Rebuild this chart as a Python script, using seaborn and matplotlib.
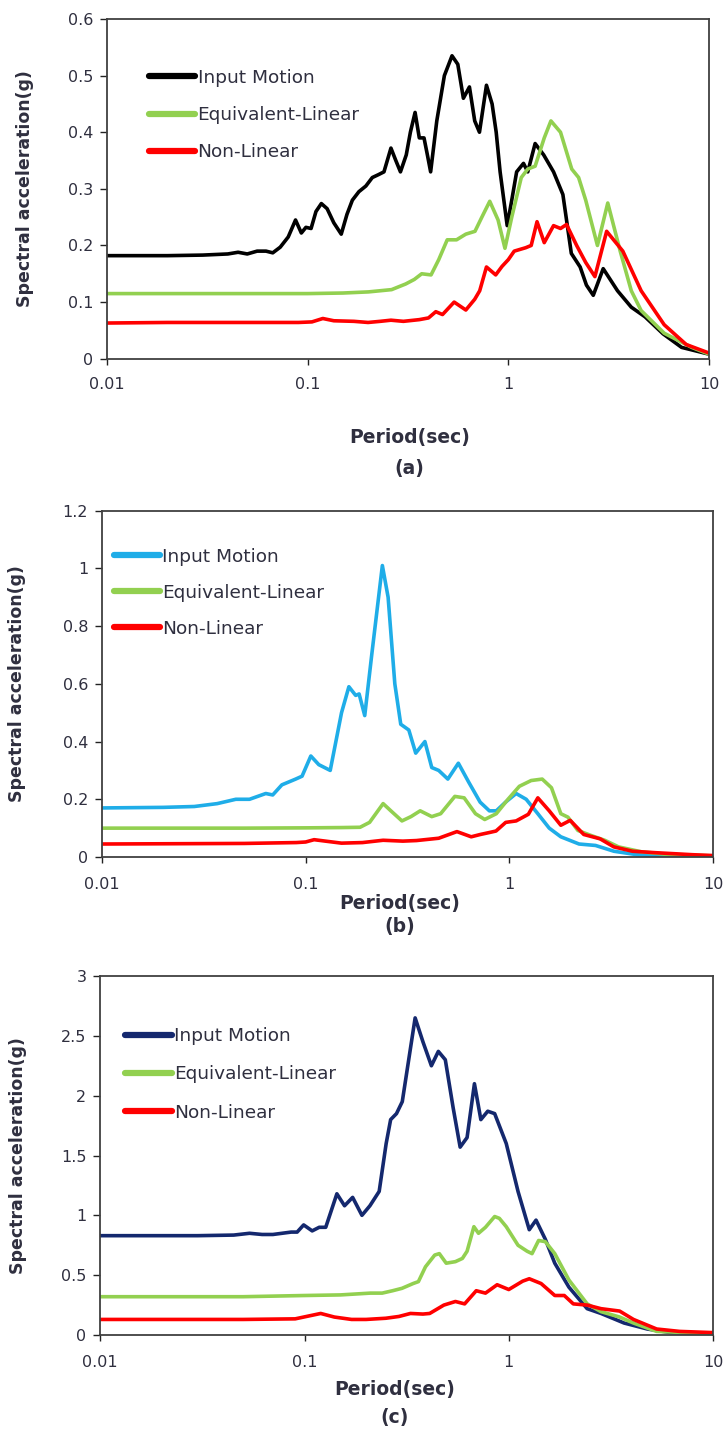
import numpy as np
import pandas as pd
import matplotlib
matplotlib.use("Agg")
import matplotlib.pyplot as plt
import seaborn as sns
from matplotlib.ticker import FixedLocator, FuncFormatter, NullLocator

sns.set_style("white")
plt.rcParams['font.family'] = ['DejaVu Sans']

series_names = ["Input Motion", "Equivalent-Linear", "Non-Linear"]
x_ticks = [0.01, 0.1, 1, 10]
x_tick_labels = ["0.01", "0.1", "1", "10"]
panel_tags = ["(a)", "(b)", "(c)"]
x_label = "Period(sec)"
y_label = "Spectral acceleration(g)"

# ---------------- Panel (a) ----------------
a_input_T = [0.01, 0.02, 0.03, 0.04, 0.045, 0.05, 0.056, 0.062, 0.067, 0.073, 0.08, 0.087, 0.093,
             0.098, 0.104, 0.11, 0.117, 0.125, 0.135, 0.147, 0.157, 0.167, 0.18, 0.195, 0.21, 0.225,
             0.24, 0.26, 0.275, 0.29, 0.31, 0.325, 0.343, 0.36, 0.38, 0.395, 0.41, 0.44, 0.48, 0.524,
             0.56, 0.597, 0.64, 0.68, 0.718, 0.778, 0.83, 0.87, 0.91, 0.987, 1.04, 1.1, 1.19, 1.25,
             1.36, 1.5, 1.68, 1.87, 2.06, 2.28, 2.45, 2.65, 2.97, 3.5, 4.1, 4.8, 5.9, 7.3, 10]
a_input_Sa = [0.182, 0.182, 0.183, 0.185, 0.188, 0.185, 0.19, 0.19, 0.187, 0.197, 0.215, 0.245, 0.222,
              0.232, 0.23, 0.26, 0.274, 0.265, 0.24, 0.22, 0.255, 0.28, 0.295, 0.305, 0.32, 0.325,
              0.33, 0.372, 0.35, 0.33, 0.36, 0.40, 0.435, 0.39, 0.39, 0.36, 0.33, 0.42, 0.5, 0.535,
              0.52, 0.46, 0.48, 0.42, 0.40, 0.483, 0.45, 0.40, 0.33, 0.235, 0.28, 0.33, 0.345, 0.33,
              0.38, 0.36, 0.33, 0.29, 0.186, 0.162, 0.13, 0.112, 0.159, 0.12, 0.091, 0.074, 0.044, 0.02, 0.008]
a_eql_T = [0.01, 0.05, 0.1, 0.15, 0.201, 0.262, 0.308, 0.34, 0.37, 0.412, 0.45, 0.496, 0.552, 0.614,
           0.682, 0.738, 0.808, 0.889, 0.962, 1.04, 1.16, 1.25, 1.36, 1.51, 1.63, 1.82, 2.07, 2.24,
           2.43, 2.78, 3.13, 3.61, 4.1, 4.59, 5.98, 8.2, 10]
a_eql_Sa = [0.115, 0.115, 0.115, 0.116, 0.118, 0.122, 0.132, 0.14, 0.15, 0.148, 0.175, 0.21, 0.21, 0.22,
            0.225, 0.25, 0.278, 0.245, 0.195, 0.25, 0.32, 0.335, 0.34, 0.39, 0.42, 0.40, 0.335, 0.32,
            0.28, 0.2, 0.275, 0.19, 0.12, 0.085, 0.045, 0.02, 0.008]
a_nl_T = [0.01, 0.02, 0.05, 0.09, 0.105, 0.119, 0.135, 0.17, 0.2, 0.23, 0.26, 0.3, 0.36, 0.4, 0.435,
          0.47, 0.537, 0.614, 0.68, 0.72, 0.778, 0.865, 0.93, 1.0, 1.07, 1.22, 1.3, 1.39, 1.51, 1.68,
          1.82, 1.95, 2.19, 2.43, 2.7, 3.09, 3.72, 4.59, 5.98, 7.7, 10]
a_nl_Sa = [0.063, 0.064, 0.064, 0.064, 0.065, 0.071, 0.067, 0.066, 0.064, 0.066, 0.068, 0.066, 0.069,
           0.072, 0.083, 0.078, 0.1, 0.086, 0.105, 0.12, 0.162, 0.148, 0.163, 0.175, 0.19, 0.196, 0.2,
           0.242, 0.205, 0.235, 0.23, 0.237, 0.2, 0.17, 0.145, 0.225, 0.19, 0.12, 0.06, 0.025, 0.01]

# ---------------- Panel (b) ----------------
b_input_T = [0.01, 0.02, 0.0284, 0.0368, 0.0454, 0.053, 0.0637, 0.0689, 0.0764, 0.0893, 0.096, 0.106,
             0.116, 0.132, 0.15, 0.163, 0.176, 0.183, 0.195, 0.211, 0.238, 0.254, 0.274, 0.293, 0.321,
             0.347, 0.385, 0.416, 0.45, 0.499, 0.562, 0.631, 0.719, 0.798, 0.863, 0.958, 1.08, 1.21,
             1.38, 1.57, 1.79, 2.2, 2.65, 3.26, 4.23, 6.1, 10]
b_input_Sa = [0.17, 0.172, 0.175, 0.185, 0.2, 0.2, 0.22, 0.215, 0.25, 0.27, 0.28, 0.35,
              0.32, 0.30, 0.5, 0.59, 0.56, 0.565, 0.49, 0.7, 1.01, 0.9, 0.6, 0.46, 0.44,
              0.36, 0.4, 0.31, 0.3, 0.27, 0.325, 0.26, 0.19, 0.16, 0.16, 0.19, 0.22, 0.2,
              0.15, 0.1, 0.07, 0.045, 0.04, 0.02, 0.008, 0.002, 0.0]
b_eql_T = [0.01, 0.05, 0.1, 0.15, 0.185, 0.206, 0.24, 0.262, 0.297, 0.329, 0.365, 0.416, 0.46, 0.54,
           0.6, 0.682, 0.757, 0.863, 0.985, 1.12, 1.28, 1.45, 1.61, 1.79, 1.94, 2.17, 2.51, 2.94,
           3.44, 4.45, 5.78, 10]
b_eql_Sa = [0.1, 0.1, 0.101, 0.102, 0.103, 0.12, 0.185, 0.16, 0.125, 0.14, 0.16, 0.14, 0.15, 0.21,
            0.205, 0.15, 0.13, 0.15, 0.2, 0.245, 0.265, 0.27, 0.24, 0.15, 0.138, 0.092, 0.075, 0.058,
            0.035, 0.018, 0.01, 0.004]
b_nl_T = [0.01, 0.05, 0.09, 0.1, 0.11, 0.125, 0.15, 0.19, 0.24, 0.3, 0.35, 0.45, 0.553, 0.65, 0.72,
          0.8, 0.86, 0.96, 1.08, 1.24, 1.38, 1.57, 1.79, 1.99, 2.32, 2.79, 3.26, 4.02, 5.2, 7.9, 10]
b_nl_Sa = [0.045, 0.047, 0.05, 0.052, 0.06, 0.055, 0.048, 0.05, 0.058, 0.055, 0.057, 0.065, 0.088, 0.07,
           0.078, 0.085, 0.09, 0.12, 0.125, 0.148, 0.205, 0.16, 0.11, 0.127, 0.078, 0.063, 0.035, 0.02,
           0.015, 0.008, 0.005]

# ---------------- Panel (c) ----------------
c_input_T = [0.01, 0.03, 0.045, 0.0538, 0.062, 0.07, 0.086, 0.092, 0.099, 0.109, 0.118, 0.127, 0.144,
             0.157, 0.172, 0.191, 0.209, 0.232, 0.251, 0.264, 0.282, 0.301, 0.348, 0.38, 0.418, 0.452,
             0.489, 0.534, 0.578, 0.625, 0.679, 0.73, 0.789, 0.853, 0.972, 1.11, 1.26, 1.36, 1.51,
             1.68, 1.97, 2.42, 2.83, 3.67, 4.77, 6.2, 10]
c_input_Sa = [0.83, 0.83, 0.835, 0.85, 0.84, 0.84, 0.86, 0.86, 0.92, 0.87, 0.9, 0.9, 1.18,
              1.08, 1.15, 1.0, 1.08, 1.2, 1.6, 1.8, 1.85, 1.95, 2.65, 2.45, 2.25, 2.37,
              2.3, 1.9, 1.57, 1.65, 2.1, 1.8, 1.87, 1.85, 1.6, 1.2, 0.88, 0.96, 0.8,
              0.6, 0.4, 0.22, 0.18, 0.1, 0.05, 0.02, 0.01]
c_eql_T = [0.01, 0.05, 0.1, 0.15, 0.21, 0.24, 0.27, 0.3, 0.34, 0.361, 0.391, 0.434, 0.457, 0.494,
           0.548, 0.593, 0.625, 0.675, 0.711, 0.769, 0.853, 0.899, 0.972, 1.11, 1.23, 1.30, 1.40,
           1.51, 1.68, 1.97, 2.42, 2.83, 3.49, 4.08, 5.3, 10]
c_eql_Sa = [0.32, 0.32, 0.33, 0.335, 0.35, 0.35, 0.37, 0.39, 0.43, 0.446, 0.57, 0.668, 0.68, 0.6,
            0.613, 0.64, 0.70, 0.905, 0.85, 0.9, 0.99, 0.975, 0.905, 0.75, 0.70, 0.68, 0.79,
            0.78, 0.68, 0.46, 0.26, 0.195, 0.15, 0.1, 0.03, 0.01]
c_nl_T = [0.01, 0.05, 0.09, 0.12, 0.14, 0.17, 0.2, 0.25, 0.29, 0.33, 0.38, 0.41, 0.481, 0.548, 0.608,
          0.693, 0.769, 0.877, 1.0, 1.17, 1.26, 1.44, 1.68, 1.87, 2.07, 2.42, 2.83, 3.49, 4.08, 5.3,
          6.87, 10]
c_nl_Sa = [0.13, 0.13, 0.135, 0.18, 0.15, 0.13, 0.13, 0.14, 0.155, 0.18, 0.175, 0.18, 0.25, 0.28, 0.26,
           0.37, 0.35, 0.42, 0.38, 0.45, 0.47, 0.43, 0.33, 0.33, 0.26, 0.25, 0.22, 0.2, 0.13, 0.05,
           0.03, 0.02]

panels = [
    dict(data=[(a_input_T, a_input_Sa), (a_eql_T, a_eql_Sa), (a_nl_T, a_nl_Sa)],
         colors=["#000000", "#92D050", "#FF0000"],
         rect=[107/725, 1-358.7/1433, 602/725, 339.7/1433],
         ylim=(0, 0.6), yticks=[0, 0.1, 0.2, 0.3, 0.4, 0.5, 0.6],
         leg=(0.07, 0.854), lspace=1.05,
         ylab_x=-0.136, xlab_y=-0.2305, tag_y=-0.322, xlab_x=0.503, xpad=9),
    dict(data=[(b_input_T, b_input_Sa), (b_eql_T, b_eql_Sa), (b_nl_T, b_nl_Sa)],
         colors=["#1FADE8", "#92D050", "#FF0000"],
         rect=[102/725, 1-857/1433, 611/725, 346.3/1433],
         ylim=(0, 1.2), yticks=[0, 0.2, 0.4, 0.6, 0.8, 1.0, 1.2],
         leg=(0.019, 0.893), lspace=0.98,
         ylab_x=-0.139, xlab_y=-0.133, tag_y=-0.202, xlab_x=0.487, xpad=10),
    dict(data=[(c_input_T, c_input_Sa), (c_eql_T, c_eql_Sa), (c_nl_T, c_nl_Sa)],
         colors=["#14286E", "#92D050", "#FF0000"],
         rect=[100.3/725, 1-1335/1433, 612.7/725, 359/1433],
         ylim=(0, 3.0), yticks=[0, 0.5, 1.0, 1.5, 2.0, 2.5, 3.0],
         leg=(0.041, 0.858), lspace=1.1,
         ylab_x=-0.135, xlab_y=-0.153, tag_y=-0.231, xlab_x=0.481, xpad=10),
]

fig = plt.figure(figsize=(7.25, 14.33), dpi=100)
fig.patch.set_facecolor("white")

txt_color = "#2f2f3f"
for i, p in enumerate(panels):
    ax = fig.add_axes(p["rect"])
    for (T, Sa), name, col in zip(p["data"], series_names, p["colors"]):
        df = pd.DataFrame({"T": T, "Sa": Sa})
        sns.lineplot(data=df, x="T", y="Sa", ax=ax, color=col, lw=2.6,
                     sort=False, estimator=None, label=name,
                     solid_joinstyle="round", solid_capstyle="round")
    ax.set_xscale("log")
    ax.set_xlim(0.01, 10)
    ax.set_ylim(*p["ylim"])
    ax.xaxis.set_major_locator(FixedLocator(x_ticks))
    ax.xaxis.set_minor_locator(NullLocator())
    ax.set_xticklabels(x_tick_labels)
    ax.yaxis.set_major_locator(FixedLocator(p["yticks"]))
    ax.yaxis.set_major_formatter(FuncFormatter(lambda v, pos: f"{v:g}"))
    ax.tick_params(axis="y", direction="out", length=5, width=1, pad=5,
                   labelsize=11.5, labelcolor=txt_color, color="#222222", left=True)
    ax.tick_params(axis="x", direction="out", length=4.5, width=1, pad=p["xpad"],
                   labelsize=11.5, labelcolor=txt_color, color="#222222", bottom=True)
    for s in ax.spines.values():
        s.set_visible(True)
        s.set_color("#404040")
        s.set_linewidth(1.3)
    ax.set_ylabel(y_label, fontsize=12.5, fontweight="bold", color=txt_color, va="center")
    ax.yaxis.set_label_coords(p["ylab_x"], 0.5)
    ax.set_xlabel(x_label, fontsize=13.5, fontweight="bold", color=txt_color, va="center")
    ax.xaxis.set_label_coords(p["xlab_x"], p["xlab_y"])
    ax.text(p["xlab_x"], p["tag_y"], panel_tags[i], transform=ax.transAxes, ha="center",
            va="center", fontsize=13.5, fontweight="bold", color=txt_color)
    leg = ax.legend(loc="upper left", bbox_to_anchor=p["leg"], frameon=False, fontsize=13.3,
                    handlelength=2.5, handletextpad=0.12, labelspacing=p["lspace"],
                    borderpad=0, borderaxespad=0)
    for t in leg.get_texts():
        t.set_color(txt_color)
    for ln in leg.get_lines():
        ln.set_linewidth(4.5)

fig.savefig("out.png", dpi=100, facecolor="white")
